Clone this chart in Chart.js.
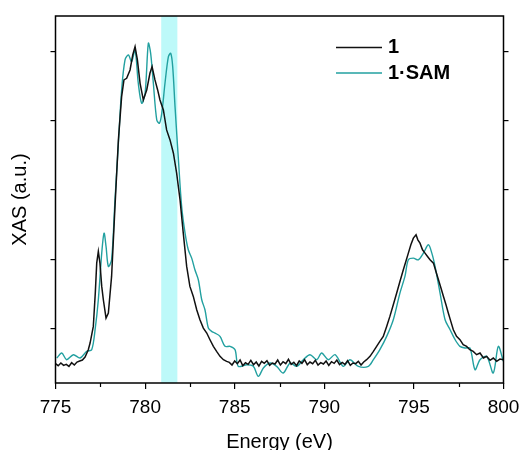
<!DOCTYPE html>
<html>
<head>
<meta charset="utf-8">
<script src="https://cdn.jsdelivr.net/npm/chart.js@4/dist/chart.umd.min.js"></script>
<style>
  html, body { margin: 0; padding: 0; background: #fff; }
</style>
</head>
<body>
<canvas id="xasChart" width="531" height="450"></canvas>
<script>
// data (energy in eV, XAS in arbitrary units)
const energy1 = [
  775.00, 775.15, 775.30, 775.45, 775.60, 775.75, 775.90, 776.05, 776.20, 776.35, 776.50, 776.65,
  776.83, 776.93, 777.11, 777.22, 777.30, 777.39, 777.48, 777.58, 777.67, 777.82, 777.95, 778.13,
  778.32, 778.51, 778.69, 778.82, 778.97, 779.16, 779.31, 779.44, 779.57, 779.72, 779.90, 780.09,
  780.27, 780.39, 780.55, 780.70, 780.83, 781.02, 781.20, 781.39, 781.58, 781.76, 781.95, 782.13,
  782.32, 782.50, 782.69, 782.88, 783.06, 783.25, 783.44, 783.62, 783.81, 783.99, 784.18, 784.37,
  784.55, 784.70, 784.85, 785.00, 785.15, 785.30, 785.45, 785.60, 785.75, 785.90, 786.05, 786.20,
  786.35, 786.50, 786.65, 786.80, 786.95, 787.10, 787.25, 787.40, 787.55, 787.70, 787.85, 788.00,
  788.15, 788.30, 788.45, 788.60, 788.75, 788.90, 789.05, 789.20, 789.35, 789.50, 789.65, 789.80,
  789.95, 790.10, 790.25, 790.40, 790.55, 790.70, 790.85, 791.00, 791.15, 791.30, 791.45, 791.60,
  791.75, 791.90, 792.05, 792.20, 792.36, 792.55, 792.74, 792.92, 793.10, 793.29, 793.48, 793.66,
  793.85, 794.04, 794.22, 794.41, 794.55, 794.69, 794.83, 794.97, 795.12, 795.22, 795.34, 795.48,
  795.62, 795.76, 795.90, 796.09, 796.23, 796.37, 796.51, 796.65, 796.79, 796.92, 797.06, 797.20,
  797.38, 797.57, 797.75, 797.94, 798.12, 798.31, 798.50, 798.69, 798.88, 799.06, 799.25, 799.43,
  799.62, 799.80, 800.00
];
const xas1 = [
  5.8, 5.2, 6.0, 5.3, 5.6, 5.0, 6.1, 5.4, 6.3, 6.6, 6.9, 7.8,
  10.0, 12.0, 17.0, 27.0, 36.0, 39.5, 36.0, 29.0, 25.0, 19.5, 21.0, 32.0,
  53.0, 73.0, 86.0, 91.0, 91.5, 94.0, 98.5, 101.0, 97.0, 90.0, 85.0, 88.0,
  93.0, 95.0, 91.0, 88.0, 85.0, 82.0, 76.0, 73.0, 69.0, 63.0, 55.0, 45.0,
  35.0, 29.0, 26.0, 22.0, 19.0, 16.5, 15.0, 13.0, 11.0, 9.5, 8.0, 7.0,
  6.5, 6.2, 5.4, 6.6, 5.8, 6.9, 5.2, 6.1, 5.6, 6.8, 5.5, 6.3,
  5.1, 6.5, 5.9, 6.7, 5.3, 6.0, 5.7, 6.9, 5.4, 6.4, 5.8, 7.1,
  5.6, 6.2, 5.2, 6.6, 5.9, 7.0, 5.5, 6.3, 5.8, 6.8, 5.4, 6.1,
  5.7, 6.6, 5.3, 6.4, 5.9, 6.9, 5.5, 6.2, 5.6, 6.7, 5.3, 6.0,
  5.8, 6.5, 5.4, 6.3, 7.0, 8.0, 9.5, 11.0, 12.5, 14.0, 17.0, 20.0,
  23.5, 27.0, 30.5, 34.0, 36.5, 39.0, 41.5, 43.5, 44.5, 43.0, 42.0, 40.0,
  39.0, 38.0, 37.0, 36.0, 33.5, 31.0, 28.5, 26.0, 23.5, 21.0, 18.5, 16.0,
  14.0, 13.0, 11.5, 11.0, 10.0, 9.5, 8.5, 9.0, 7.5, 8.0, 6.8, 7.5,
  6.5, 7.2, 7.0
];
const energy2 = [
  775.07, 775.35, 775.62, 776.00, 776.37, 776.74, 777.02, 777.21, 777.39, 777.58, 777.71, 777.82,
  777.95, 778.13, 778.32, 778.51, 778.69, 778.88, 779.07, 779.25, 779.44, 779.62, 779.81, 780.00,
  780.18, 780.31, 780.46, 780.65, 780.80, 780.93, 781.11, 781.30, 781.43, 781.54, 781.67, 781.86,
  782.04, 782.23, 782.41, 782.60, 782.78, 782.97, 783.16, 783.34, 783.53, 783.71, 783.90, 784.18,
  784.46, 784.74, 785.02, 785.20, 785.67, 786.04, 786.32, 786.60, 786.97, 787.34, 787.71, 788.09,
  788.46, 788.83, 789.20, 789.58, 789.85, 790.22, 790.60, 791.06, 791.43, 791.90, 792.46, 792.74,
  793.10, 793.48, 793.85, 794.22, 794.50, 794.69, 794.97, 795.25, 795.53, 795.81, 796.00, 796.18,
  796.46, 796.74, 797.02, 797.30, 797.57, 797.85, 798.13, 798.41, 798.69, 799.06, 799.43, 799.71,
  799.99
];
const xas2 = [
  7.5, 9.0, 7.0, 8.5, 7.5, 9.5, 10.0, 16.0, 25.0, 39.0, 45.0, 41.0,
  35.0, 37.0, 55.0, 72.0, 88.0, 97.0, 98.5, 96.5, 100.0, 90.0, 84.0, 87.0,
  102.0, 99.0, 90.0, 79.0, 78.0, 81.0, 90.0, 98.0, 99.0, 95.0, 83.0, 67.0,
  53.0, 45.0, 40.0, 37.5, 34.0, 31.0, 25.0, 22.0, 16.5, 15.5, 15.0, 14.0,
  11.0, 11.0, 10.0, 5.0, 5.5, 5.0, 2.0, 4.5, 6.0, 5.0, 3.0, 6.0,
  5.0, 7.0, 8.5, 7.0, 9.0, 7.0, 8.5, 5.0, 7.0, 5.0, 5.0, 7.0,
  10.0, 14.0, 19.0, 27.0, 32.0, 37.0, 37.5, 37.0, 39.0, 41.5, 39.0, 35.0,
  27.0, 19.0, 16.0, 13.0, 11.0, 10.5, 10.5, 4.0, 7.0, 8.0, 3.0, 11.0,
  6.5
];
const seriesNames = ['1', '1\u00b7SAM'];
const xTicks = [775, 780, 785, 790, 795, 800];
const xMinorTicks = [777.5, 782.5, 787.5, 792.5, 797.5];
const yTicks = [16.4, 37.2, 58.0, 78.8, 99.6];
const band = [780.9, 781.8];

const fontFamily = '"Liberation Sans", Arial, sans-serif';

const toPoints = (xs, ys) => xs.map((x, i) => ({ x: x, y: ys[i] }));
const setYTicks = scale => { scale.ticks = yTicks.map(v => ({ value: v })); };

// shaded energy window behind the curves
const bandPlugin = {
    id: 'band',
    beforeDatasetsDraw(chart) {
        const { ctx, chartArea, scales } = chart;
        const x0 = scales.x.getPixelForValue(band[0]);
        const x1 = scales.x.getPixelForValue(band[1]);
        ctx.save();
        ctx.fillStyle = '#bdf9f9';
        ctx.fillRect(x0, chartArea.top, x1 - x0, chartArea.bottom - chartArea.top);
        ctx.restore();
    }
};

// frame, minor x ticks and the legend
const framePlugin = {
    id: 'frame',
    afterDatasetsDraw(chart) {
        const { ctx, chartArea, scales } = chart;
        ctx.save();
        ctx.strokeStyle = '#000';
        ctx.lineWidth = 1.5;
        ctx.strokeRect(chartArea.left, chartArea.top, chartArea.right - chartArea.left, chartArea.bottom - chartArea.top);

        ctx.lineWidth = 1.2;
        xMinorTicks.forEach(v => {
            const px = Math.round(scales.x.getPixelForValue(v)) + 0.5;
            ctx.beginPath();
            ctx.moveTo(px, chartArea.bottom);
            ctx.lineTo(px, chartArea.bottom + 4);
            ctx.stroke();
        });

        ctx.font = 'bold 20px ' + fontFamily;
        ctx.textBaseline = 'middle';
        ctx.textAlign = 'left';
        chart.data.datasets.forEach((ds, i) => {
            const y = chartArea.top + 31.5 + i * 25.6;
            ctx.strokeStyle = ds.borderColor;
            ctx.lineWidth = 1.5;
            ctx.beginPath();
            ctx.moveTo(336, y);
            ctx.lineTo(382, y);
            ctx.stroke();
            ctx.fillStyle = '#000';
            ctx.fillText(ds.label, 388, y);
        });
        ctx.restore();
    }
};

const ctx = document.getElementById('xasChart').getContext('2d');
new Chart(ctx, {
    type: 'line',
    data: {
        datasets: [{
            label: seriesNames[0],
            data: toPoints(energy1, xas1),
            borderColor: '#111111',
            borderWidth: 1.5,
            pointRadius: 0,
            tension: 0
        }, {
            label: seriesNames[1],
            data: toPoints(energy2, xas2),
            borderColor: '#22a0a0',
            borderWidth: 1.4,
            pointRadius: 0,
            tension: 0.3
        }]
    },
    options: {
        responsive: false,
        animation: false,
        layout: { padding: { top: 16, left: 0, right: 0, bottom: 0 } },
        plugins: {
            legend: { display: false },
            tooltip: { enabled: false }
        },
        scales: {
            x: {
                type: 'linear',
                position: 'bottom',
                min: 775,
                max: 800,
                afterBuildTicks: scale => { scale.ticks = xTicks.map(v => ({ value: v })); },
                afterFit: scale => { scale.height = 67; },
                grid: { drawOnChartArea: false, tickLength: 6, color: '#000', lineWidth: 1.2 },
                border: { display: false },
                ticks: {
                    color: '#000',
                    padding: 7,
                    maxRotation: 0,
                    autoSkip: false,
                    font: { family: fontFamily, size: 19 }
                },
                title: {
                    display: true,
                    text: 'Energy (eV)',
                    color: '#000',
                    padding: { top: 0, bottom: -4 },
                    font: { family: fontFamily, size: 20, lineHeight: 1.2 }
                }
            },
            y: {
                position: 'left',
                min: 0,
                max: 110.2,
                afterBuildTicks: setYTicks,
                afterFit: scale => { scale.width = 55.5; },
                grid: { drawOnChartArea: false, tickLength: 5, color: '#000', lineWidth: 1.2 },
                border: { display: false },
                ticks: { display: false },
                title: {
                    display: true,
                    text: 'XAS (a.u.)',
                    color: '#000',
                    padding: { top: 8, bottom: 0 },
                    font: { family: fontFamily, size: 20, lineHeight: 1.2 }
                }
            },
            y2: {
                position: 'right',
                min: 0,
                max: 110.2,
                afterBuildTicks: setYTicks,
                afterFit: scale => { scale.width = 27.5; },
                grid: { drawOnChartArea: false, tickLength: 5, color: '#000', lineWidth: 1.2 },
                border: { display: false },
                ticks: { display: false }
            }
        }
    },
    plugins: [bandPlugin, framePlugin]
});
</script>
</body>
</html>
